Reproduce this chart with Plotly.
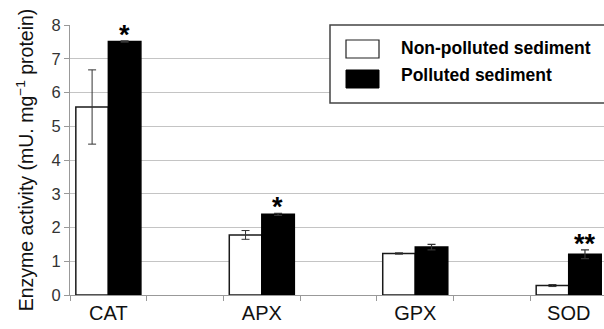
import plotly.graph_objects as go

categories = ["CAT", "APX", "GPX", "SOD"]
non_polluted = [5.57, 1.78, 1.23, 0.28]
non_polluted_err = [1.1, 0.13, 0.02, 0.03]
polluted = [7.51, 2.39, 1.42, 1.21]
polluted_err = [0.02, 0.03, 0.08, 0.13]
significance = ["*", "*", "", "**"]
y_ticks = [0, 1, 2, 3, 4, 5, 6, 7, 8]

xpos = [2 * i for i in range(len(categories))]
FONT = "Liberation Sans, Arial, sans-serif"

fig = go.Figure()
fig.add_trace(go.Bar(
    x=xpos, y=non_polluted, name="Non-polluted sediment",
    marker=dict(color="white", line=dict(color="#1a1a1a", width=1.5)),
    error_y=dict(type="data", array=non_polluted_err, color="#333", thickness=1, width=4),
))
fig.add_trace(go.Bar(
    x=xpos, y=polluted, name="Polluted sediment",
    marker=dict(color="black", line=dict(color="black", width=1.5)),
    error_y=dict(type="data", array=polluted_err, color="#333", thickness=1.2, width=4),
))

annotations = []
for x, v, e, s in zip(xpos, polluted, polluted_err, significance):
    if s:
        annotations.append(dict(x=x, y=v + e, text="<b>" + s + "</b>", showarrow=False,
                                xshift=16, yanchor="bottom", yshift=-11,
                                font=dict(family=FONT, size=27, color="black")))

# manual legend
def px2paper_x(px):
    return (px - 70) / 534.0

def px2paper_y(py):
    return (295 - py) / 270.0

shapes = [
    dict(type="rect", xref="paper", yref="paper",
         x0=px2paper_x(330), x1=px2paper_x(620), y0=px2paper_y(103), y1=px2paper_y(25),
         line=dict(color="#444", width=1.5), fillcolor="white", layer="above"),
    dict(type="rect", xref="paper", yref="paper",
         x0=px2paper_x(346), x1=px2paper_x(379), y0=px2paper_y(58), y1=px2paper_y(40),
         line=dict(color="#222", width=1.2), fillcolor="white", layer="above"),
    dict(type="rect", xref="paper", yref="paper",
         x0=px2paper_x(346), x1=px2paper_x(379), y0=px2paper_y(88), y1=px2paper_y(70),
         line=dict(color="black", width=1), fillcolor="black", layer="above"),
]
for name, py in [("Non-polluted sediment", 48), ("Polluted sediment", 75)]:
    annotations.append(dict(xref="paper", yref="paper", x=px2paper_x(399), y=px2paper_y(py),
                            text="<b>" + name + "</b>", showarrow=False, xanchor="left",
                            yanchor="middle", font=dict(family=FONT, size=17.5, color="black")))

fig.update_layout(
    width=604, height=329,
    margin=dict(l=70, r=0, t=25, b=34),
    paper_bgcolor="white", plot_bgcolor="white",
    barmode="group", bargap=0.576, bargroupgap=0,
    showlegend=False,
    shapes=shapes, annotations=annotations,
    font=dict(family=FONT, color="#222"),
)
fig.update_xaxes(
    range=[-0.5, 6.46], tickmode="array", tickvals=xpos, ticktext=categories,
    ticks="", showgrid=False, showline=True, linecolor="#999", linewidth=1,
    tickfont=dict(family=FONT, size=20, color="#111"), zeroline=False,
    minor=dict(tickmode="array", tickvals=[i + 0.5 for i in range(-1, 7)],
               ticks="outside", ticklen=5, tickcolor="#999", showgrid=False),
)
fig.update_yaxes(
    range=[0, 8], tickmode="array", tickvals=y_ticks,
    ticks="outside", ticklen=5, tickcolor="#999",
    showgrid=True, gridcolor="#c4c4c4", gridwidth=1,
    showline=True, linecolor="#999", linewidth=1, zeroline=False,
    tickfont=dict(family=FONT, size=16.5, color="#333"),
    title=dict(text="Enzyme activity (mU. mg<sup>−1</sup> protein)",
               font=dict(family=FONT, size=19.5, color="#111"), standoff=12),
)

fig.write_html("out.html")
